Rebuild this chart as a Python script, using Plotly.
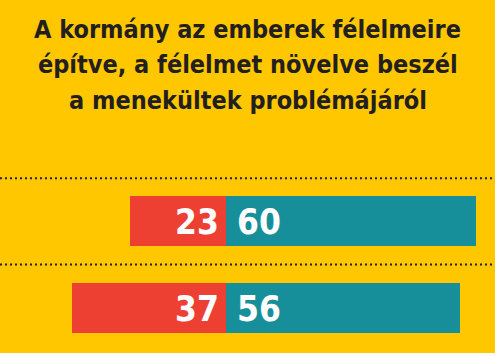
import plotly.graph_objects as go

categories = ["A", "B"]
red_values = [23, 37]
teal_values = [60, 56]
title_lines = ["A kormány az emberek félelmeire",
               "építve, a félelmet növelve beszél",
               "a menekültek problémájáról"]

YELLOW = "#FEC700"
RED = "#EE4032"
TEAL = "#178F9B"
DARK = "#231F20"
FONT = "DejaVu Sans Condensed, sans-serif"

ypos = list(range(len(categories)))

fig = go.Figure()
fig.add_trace(go.Bar(y=ypos, x=[-v for v in red_values], orientation="h",
                     marker=dict(color=RED, line=dict(width=0)), width=0.58,
                     hoverinfo="skip"))
fig.add_trace(go.Bar(y=ypos, x=teal_values, orientation="h",
                     marker=dict(color=TEAL, line=dict(width=0)), width=0.58,
                     hoverinfo="skip"))

annotations = []
for i, (r, t) in enumerate(zip(red_values, teal_values)):
    annotations.append(dict(x=0, y=i, xref="x", yref="y", text=str(r), showarrow=False,
                            xanchor="right", yanchor="middle", xshift=-5, yshift=-1,
                            font=dict(family=FONT, size=35, color="white", weight="bold")))
    annotations.append(dict(x=0, y=i, xref="x", yref="y", text=str(t), showarrow=False,
                            xanchor="left", yanchor="middle", xshift=9, yshift=-1,
                            font=dict(family=FONT, size=35, color="white", weight="bold")))

for k, line in enumerate(title_lines):
    center_px = 29 + 35.5 * k
    annotations.append(dict(x=0.495, y=1 - center_px / 356, xref="paper", yref="paper",
                            text=line, showarrow=False,
                            xanchor="center", yanchor="middle", align="center",
                            font=dict(family=FONT, size=25, color=DARK, weight="bold")))

shapes = [dict(type="rect", xref="paper", yref="paper", x0=0, x1=0.99, y0=3 / 356, y1=1,
               fillcolor=YELLOW, line=dict(width=0), layer="below")]
for b in [i - 0.5 for i in ypos]:
    shapes.append(dict(type="line", xref="paper", yref="y", x0=0, x1=0.99, y0=b, y1=b,
                       line=dict(color=DARK, width=2, dash="2px,3px")))

fig.update_layout(
    width=500, height=356,
    margin=dict(l=0, r=0, t=0, b=0),
    paper_bgcolor="white", plot_bgcolor="rgba(0,0,0,0)",
    barmode="relative", bargap=0,
    showlegend=False,
    xaxis=dict(range=[-54.2, 65.7], visible=False, fixedrange=True),
    yaxis=dict(range=[1.56, -2.565], visible=False, fixedrange=True),
    annotations=annotations, shapes=shapes,
)
fig.write_html("out.html", config={"displayModeBar": False, "staticPlot": True},
               post_script="document.body.style.margin='0';")
